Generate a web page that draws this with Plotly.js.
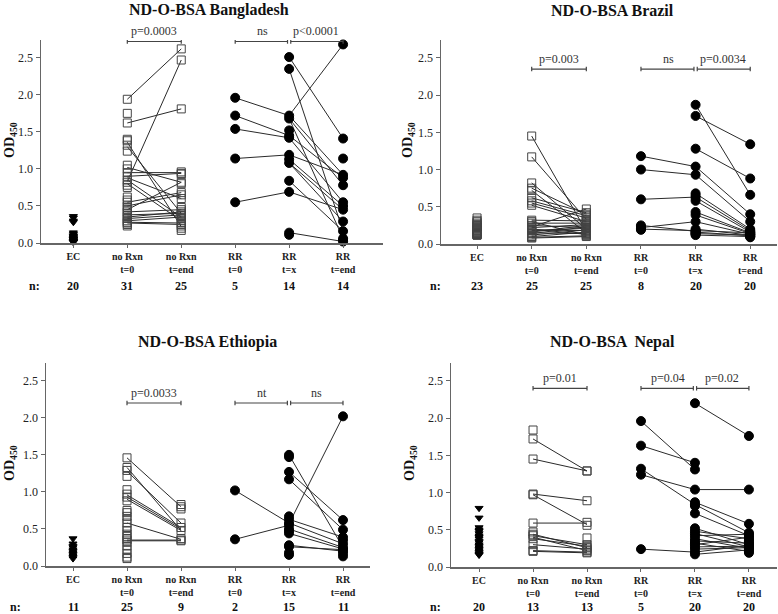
<!DOCTYPE html>
<html>
<head>
<meta charset="utf-8">
<script src="https://cdn.plot.ly/plotly-3.0.1.min.js"></script>
<style>
  html, body { margin: 0; padding: 0; background: #fff; }
  #plot { width: 778px; height: 614px; }
</style>
</head>
<body>
<div id="plot"></div>
<script>
const categories = ["EC", "no Rxn<br>t=0", "no Rxn<br>t=end", "RR<br>t=0", "RR<br>t=x", "RR<br>t=end"];
const yTicks = [0, 0.5, 1, 1.5, 2, 2.5];

// Bangladesh
const bgdEC = [0.36, 0.34, 0.3, 0.28, 0.14, 0.12, 0.1, 0.09, 0.08, 0.07, 0.06, 0.05, 0.05, 0.04, 0.03, 0.03, 0.02, 0.02, 0.01, 0.01];
const bgdNoRxn0 = [1.94, 1.75, 1.62, 1.4, 1.38, 1.32, 1.24, 1.05, 1.0, 0.95, 0.9, 0.85, 0.82, 0.78, 0.75, 0.62, 0.58, 0.55, 0.5, 0.48, 0.45, 0.42, 0.4, 0.37, 0.35, 0.33, 0.3, 0.28, 0.27, 0.25, 0.23];
const bgdNoRxnEnd = [2.62, 2.47, 1.81, 0.96, 0.94, 0.93, 0.82, 0.8, 0.68, 0.65, 0.6, 0.48, 0.45, 0.42, 0.4, 0.38, 0.37, 0.35, 0.33, 0.3, 0.27, 0.25, 0.23, 0.2, 0.17];
const bgdNoRxnLinks = [[1.94, 2.62], [0.83, 2.47], [1.62, 1.81], [1.36, 0.22], [1.3, 0.4], [1.02, 0.82], [0.95, 0.95], [0.9, 0.94], [0.88, 0.6], [0.85, 0.35], [0.8, 0.3], [0.55, 0.68], [0.5, 0.65], [0.45, 0.82], [0.42, 0.45], [0.38, 0.4], [0.35, 0.42], [0.33, 0.38], [0.3, 0.35], [0.28, 0.27], [0.27, 0.25]];
const bgdRR0 = [1.96, 1.72, 1.54, 1.14, 0.55];
const bgdRRx = [2.51, 2.35, 1.72, 1.68, 1.52, 1.45, 1.42, 1.19, 1.13, 1.08, 0.84, 0.69, 0.14, 0.11];
const bgdRREnd = [2.68, 1.41, 1.14, 0.92, 0.88, 0.78, 0.55, 0.5, 0.45, 0.29, 0.16, 0.06, 0.04, 0.02];
const bgdRRLinks0x = [[1.96, 1.72], [1.72, 1.45], [1.54, 1.42], [1.14, 1.19], [0.55, 0.69]];
const bgdRRLinksXEnd = [[2.51, 1.41], [2.35, 0.16], [1.72, 2.68], [1.72, 0.92], [1.68, 0.78], [1.45, 0.88], [1.42, 0.55], [1.19, 0.92], [1.13, 0.5], [1.08, 0.29], [1.08, 0.45], [0.84, 0.16], [0.69, 0.45], [0.14, 0.02], [1.68, 0.06]];
const bgdCounts = [20, 31, 25, 5, 14, 14];
const bgdBrackets = [[1, 2, "p=0.0003"], [3, 4, "ns"], [4, 5, "p<0.0001"]];

// Brazil
const braEC = [0.35, 0.32, 0.3, 0.28, 0.26, 0.25, 0.24, 0.23, 0.22, 0.21, 0.2, 0.19, 0.18, 0.17, 0.16, 0.15, 0.15, 0.14, 0.13, 0.13, 0.12, 0.12, 0.12];
const braNoRxn0 = [1.45, 1.17, 0.82, 0.75, 0.72, 0.62, 0.58, 0.55, 0.52, 0.32, 0.3, 0.28, 0.25, 0.23, 0.22, 0.2, 0.19, 0.18, 0.16, 0.15, 0.14, 0.12, 0.1, 0.09, 0.08];
const braNoRxnEnd = [0.47, 0.42, 0.4, 0.38, 0.35, 0.33, 0.31, 0.3, 0.28, 0.26, 0.25, 0.23, 0.22, 0.21, 0.2, 0.19, 0.18, 0.17, 0.16, 0.15, 0.14, 0.13, 0.12, 0.11, 0.1];
const braNoRxnLinks = [[1.45, 0.17], [1.17, 0.33], [0.82, 0.2], [0.75, 0.4], [0.72, 0.15], [0.62, 0.42], [0.58, 0.38], [0.55, 0.35], [0.52, 0.3], [0.32, 0.31], [0.3, 0.12], [0.28, 0.28], [0.25, 0.22], [0.23, 0.47], [0.22, 0.26], [0.2, 0.13], [0.19, 0.18], [0.18, 0.21], [0.16, 0.25], [0.15, 0.14], [0.14, 0.23], [0.12, 0.19], [0.1, 0.16], [0.09, 0.11], [0.08, 0.1]];
const braRR0 = [1.18, 1.0, 0.6, 0.25, 0.23, 0.21, 0.2, 0.19];
const braRRx = [1.87, 1.72, 1.28, 1.04, 0.93, 0.68, 0.65, 0.62, 0.58, 0.43, 0.39, 0.3, 0.2, 0.18, 0.17, 0.16, 0.15, 0.14, 0.13, 0.12];
const braRREnd = [1.34, 0.88, 0.66, 0.4, 0.3, 0.2, 0.18, 0.17, 0.16, 0.15, 0.15, 0.14, 0.13, 0.13, 0.12, 0.12, 0.11, 0.1, 0.1, 0.09];
const braRRLinks0x = [[1.18, 1.04], [1.0, 0.93], [0.6, 0.63], [0.25, 0.17], [0.22, 0.3], [0.2, 0.18]];
const braRRLinksXEnd = [[1.87, 0.66], [1.72, 1.34], [1.28, 0.88], [1.04, 0.4], [0.93, 0.3], [0.68, 0.2], [0.63, 0.18], [0.58, 0.16], [0.43, 0.15], [0.39, 0.14], [0.3, 0.13], [0.2, 0.12], [0.18, 0.15], [0.16, 0.11], [0.14, 0.12], [0.12, 0.1]];
const braCounts = [23, 25, 25, 8, 20, 20];
const braBrackets = [[1, 2, "p=0.003"], [3, 4, "ns"], [4, 5, "p=0.0034"]];

// Ethiopia
const ethEC = [0.37, 0.3, 0.27, 0.25, 0.22, 0.2, 0.18, 0.16, 0.14, 0.12, 0.1];
const ethNoRxn0 = [1.46, 1.33, 1.29, 1.21, 1.03, 0.97, 0.93, 0.88, 0.75, 0.72, 0.67, 0.63, 0.58, 0.52, 0.48, 0.43, 0.4, 0.37, 0.35, 0.32, 0.27, 0.22, 0.17, 0.12, 0.1];
const ethNoRxnEnd = [0.83, 0.8, 0.77, 0.58, 0.52, 0.48, 0.37, 0.35, 0.34];
const ethNoRxnLinks = [[1.46, 0.8], [1.33, 0.48], [1.28, 0.58], [0.96, 0.52], [0.93, 0.5], [0.9, 0.48], [0.58, 0.36], [0.35, 0.35], [0.34, 0.34]];
const ethRR0 = [1.02, 0.36];
const ethRRx = [1.5, 1.47, 1.27, 1.17, 0.67, 0.63, 0.58, 0.55, 0.5, 0.47, 0.44, 0.28, 0.26, 0.18, 0.15];
const ethRREnd = [2.02, 0.62, 0.49, 0.39, 0.35, 0.3, 0.25, 0.23, 0.2, 0.17, 0.13];
const ethRRLinks0x = [[1.02, 0.58], [0.36, 0.55]];
const ethRRLinksXEnd = [[1.5, 0.25], [0.57, 2.02], [1.27, 0.62], [1.17, 0.49], [0.63, 0.39], [0.58, 0.3], [0.5, 0.25], [0.44, 0.23], [0.28, 0.2], [0.26, 0.22]];
const ethCounts = [11, 25, 9, 2, 15, 11];
const ethBrackets = [[1, 2, "p=0.0033"], [3, 4, "nt"], [4, 5, "ns"]];

// Nepal
const npEC = [0.79, 0.66, 0.53, 0.5, 0.48, 0.45, 0.42, 0.4, 0.38, 0.35, 0.33, 0.3, 0.28, 0.26, 0.24, 0.22, 0.2, 0.18, 0.17, 0.16];
const npNoRxn0 = [1.84, 1.72, 1.45, 0.98, 0.97, 0.59, 0.47, 0.44, 0.42, 0.38, 0.3, 0.22, 0.21];
const npNoRxnEnd = [1.29, 1.29, 0.89, 0.6, 0.56, 0.39, 0.3, 0.28, 0.26, 0.24, 0.22, 0.2, 0.19];
const npNoRxnLinks = [[1.72, 1.29], [1.45, 1.29], [0.98, 0.89], [0.97, 0.57], [0.59, 0.59], [0.44, 0.26], [0.42, 0.3], [0.4, 0.22], [0.38, 0.28], [0.3, 0.24], [0.22, 0.2], [0.21, 0.19]];
const npRR0 = [1.96, 1.63, 1.32, 1.24, 0.24];
const npRRx = [2.2, 1.4, 1.31, 1.04, 0.87, 0.84, 0.82, 0.72, 0.52, 0.48, 0.45, 0.42, 0.38, 0.35, 0.32, 0.3, 0.27, 0.24, 0.2, 0.17];
const npRREnd = [1.76, 1.04, 0.58, 0.46, 0.44, 0.42, 0.4, 0.38, 0.36, 0.34, 0.32, 0.3, 0.29, 0.28, 0.27, 0.26, 0.25, 0.23, 0.21, 0.19];
const npRRLinks0x = [[1.96, 1.31], [1.63, 1.4], [1.32, 0.84], [1.24, 1.04], [0.24, 0.2]];
const npRRLinksXEnd = [[2.2, 1.76], [1.04, 1.04], [0.87, 0.58], [0.84, 0.46], [0.72, 0.42], [0.52, 0.3], [0.48, 0.38], [0.45, 0.27], [0.42, 0.44], [0.38, 0.25], [0.35, 0.32], [0.32, 0.21], [0.3, 0.4], [0.27, 0.28], [0.24, 0.26], [0.2, 0.29], [0.17, 0.23]];
const npCounts = [20, 13, 13, 5, 20, 20];
const npBrackets = [[1, 2, "p=0.01"], [3, 4, "p=0.04"], [4, 5, "p=0.02"]];

const W = 778, H = 614;
const px = (x) => x / W;
const py = (y) => 1 - y / H;
const serif = "Liberation Serif";

const panels = [
    {
        title: "ND-O-BSA Bangladesh", ec: bgdEC, ecSymbol: "triangle-down",
        nr0: bgdNoRxn0, nrEnd: bgdNoRxnEnd, nrLinks: bgdNoRxnLinks,
        rr0: bgdRR0, rrx: bgdRRx, rrEnd: bgdRREnd, rrLinks0x: bgdRRLinks0x, rrLinksXEnd: bgdRRLinksXEnd,
        counts: bgdCounts, brackets: bgdBrackets, bracketY: 2.72,
        xdom: [px(41), px(383)], xrange: [-0.6, 5.74], ydom: [py(243), py(40)],
        titleX: 209, titleY: 10, odX: 10, odY: 140, nX: 34, nY: 286
    },
    {
        title: "ND-O-BSA Brazil", ec: braEC, ecSymbol: "square-open",
        nr0: braNoRxn0, nrEnd: braNoRxnEnd, nrLinks: braNoRxnLinks,
        rr0: braRR0, rrx: braRRx, rrEnd: braRREnd, rrLinks0x: braRRLinks0x, rrLinksXEnd: braRRLinksXEnd,
        counts: braCounts, brackets: braBrackets, bracketY: 2.35,
        xdom: [px(441), px(777)], xrange: [-0.66, 5.49], ydom: [py(244), py(40)],
        titleX: 612, titleY: 10, odX: 408, odY: 140, nX: 435, nY: 286
    },
    {
        title: "ND-O-BSA Ethiopia", ec: ethEC, ecSymbol: "triangle-down",
        nr0: ethNoRxn0, nrEnd: ethNoRxnEnd, nrLinks: ethNoRxnLinks,
        rr0: ethRR0, rrx: ethRRx, rrEnd: ethRREnd, rrLinks0x: ethRRLinks0x, rrLinksXEnd: ethRRLinksXEnd,
        counts: ethCounts, brackets: ethBrackets, bracketY: 2.2,
        xdom: [px(46), px(370)], xrange: [-0.5, 5.5], ydom: [py(566), py(363)],
        titleX: 207, titleY: 342, odX: 10, odY: 463, nX: 16, nY: 607
    },
    {
        title: "ND-O-BSA  Nepal", ec: npEC, ecSymbol: "triangle-down",
        nr0: npNoRxn0, nrEnd: npNoRxnEnd, nrLinks: npNoRxnLinks,
        rr0: npRR0, rrx: npRRx, rrEnd: npRREnd, rrLinks0x: npRRLinks0x, rrLinksXEnd: npRRLinksXEnd,
        counts: npCounts, brackets: npBrackets, bracketY: 2.4,
        xdom: [px(451), px(777)], xrange: [-0.52, 5.52], ydom: [py(567), py(363)],
        titleX: 612, titleY: 342, odX: 410, odY: 463, nX: 435, nY: 607
    }
];

function linkTrace(links, xa, xb, ax) {
    const x = [];
    const y = [];
    links.forEach(([a, b]) => {
        x.push(xa, xb, null);
        y.push(a, b, null);
    });
    return {
        x, y, type: "scatter", mode: "lines", xaxis: ax.x, yaxis: ax.y,
        line: { color: "#2a2a2a", width: 1 }, hoverinfo: "skip", showlegend: false
    };
}

function pointTrace(values, col, symbol, ax) {
    const open = symbol === "square-open";
    return {
        x: values.map(() => col), y: values, type: "scatter", mode: "markers",
        xaxis: ax.x, yaxis: ax.y, showlegend: false, cliponaxis: false,
        marker: {
            symbol, size: open ? 8 : (symbol === "circle" ? 9 : 7),
            color: open ? "#444" : "#000",
            line: { width: 1, color: open ? "#444" : "#000" }
        }
    };
}

function textNote(xref, x, y, text, size, extra) {
    return Object.assign({
        xref, yref: "paper", x, y, text, showarrow: false,
        xanchor: "center", yanchor: "middle",
        font: { family: serif, size, color: "#111" }
    }, extra || {});
}

const traces = [];
const annotations = [];
const shapes = [];
const layout = {
    width: W, height: H, margin: { l: 0, r: 0, t: 0, b: 0 },
    paper_bgcolor: "#fff", plot_bgcolor: "#fff", showlegend: false,
    font: { family: serif, size: 11, color: "#222" }
};

panels.forEach((p, i) => {
    const n = i === 0 ? "" : String(i + 1);
    const ax = { x: "x" + n, y: "y" + n };
    layout["xaxis" + n] = {
        domain: p.xdom, range: p.xrange, anchor: ax.y,
        tickvals: [0, 1, 2, 3, 4, 5], ticktext: categories.map((c) => "<b>" + c + "</b>"),
        showline: true, linecolor: "#666", linewidth: 1.5, ticks: "outside", ticklen: 3, tickcolor: "#666",
        showgrid: false, zeroline: false, tickfont: { family: serif, size: 10, color: "#222" }
    };
    layout["yaxis" + n] = {
        domain: p.ydom, range: [0, 2.74], anchor: ax.x,
        tickvals: yTicks, tickformat: ".1f",
        showline: true, linecolor: "#666", linewidth: 1.5, ticks: "outside", ticklen: 4, tickcolor: "#666",
        showgrid: false, zeroline: false, tickfont: { family: serif, size: 12, color: "#222" }
    };

    traces.push(linkTrace(p.nrLinks, 1, 2, ax));
    traces.push(linkTrace(p.rrLinks0x, 3, 4, ax));
    traces.push(linkTrace(p.rrLinksXEnd, 4, 5, ax));
    traces.push(pointTrace(p.ec, 0, p.ecSymbol, ax));
    traces.push(pointTrace(p.nr0, 1, "square-open", ax));
    traces.push(pointTrace(p.nrEnd, 2, "square-open", ax));
    traces.push(pointTrace(p.rr0, 3, "circle", ax));
    traces.push(pointTrace(p.rrx, 4, "circle", ax));
    traces.push(pointTrace(p.rrEnd, 5, "circle", ax));

    p.brackets.forEach(([a, b, label]) => {
        const x0 = a + (a === 4 ? 0.03 : 0);
        const x1 = b - (b === 4 ? 0.03 : 0);
        const line = { color: "#444", width: 1.2 };
        shapes.push({ type: "line", xref: ax.x, yref: ax.y, x0, x1, y0: p.bracketY, y1: p.bracketY, line });
        shapes.push({ type: "line", xref: ax.x, yref: ax.y, x0, x1: x0, y0: p.bracketY - 0.03, y1: p.bracketY + 0.03, line });
        shapes.push({ type: "line", xref: ax.x, yref: ax.y, x0: x1, x1, y0: p.bracketY - 0.03, y1: p.bracketY + 0.03, line });
        annotations.push({
            xref: ax.x, yref: ax.y, x: (a + b) / 2, y: p.bracketY, text: label, showarrow: false,
            xanchor: "center", yanchor: "bottom", yshift: 1, font: { family: serif, size: 12, color: "#333" }
        });
    });

    annotations.push(textNote("paper", px(p.titleX), py(p.titleY), "<b>" + p.title + "</b>", 16));
    annotations.push(textNote("paper", px(p.odX), py(p.odY), "<b>OD<sub>450</sub></b>", 14, { textangle: -90 }));
    annotations.push(textNote("paper", px(p.nX), py(p.nY), "<b>n:</b>", 12));
    p.counts.forEach((c, k) => {
        annotations.push(textNote(ax.x, k, py(p.nY), "<b>" + c + "</b>", 12));
    });
});

layout.annotations = annotations;
layout.shapes = shapes;

Plotly.newPlot("plot", traces, layout, { displayModeBar: false, staticPlot: true });
</script>
</body>
</html>
